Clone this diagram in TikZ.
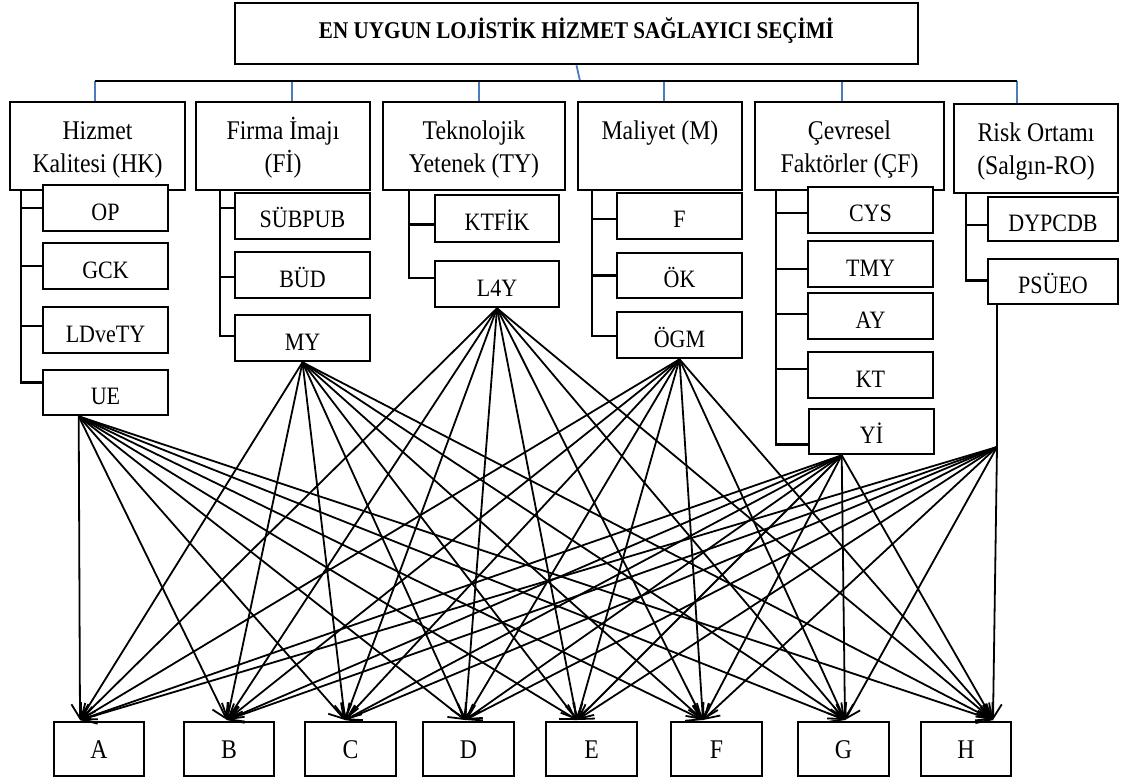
\documentclass[tikz,border=0pt]{standalone}
\usepackage{fontspec}
\setmainfont{Liberation Serif}[FakeStretch=0.88]
\usetikzlibrary{arrows.meta,calc}
\definecolor{tickblue}{RGB}{74,126,187}
\newcommand\fl{\rule{0pt}{25pt}}
\begin{document}
\begin{tikzpicture}[x=1pt,y=-1pt,
  box/.style={draw, line width=2.6pt, fill=white, inner sep=0pt},
  bx/.style 2 args={minimum width=#1pt, minimum height=#2pt},
  tfont/.style={font=\bfseries\fontsize{24}{28}\selectfont, text height=16pt, text depth=6pt},
  lfont/.style={align=center, font=\fontsize{27}{33}\selectfont},
  sfont/.style={font=\fontsize{25}{29}\selectfont, text height=24pt, text depth=0pt},
  afont/.style={font=\fontsize{27}{31}\selectfont, text height=18pt, text depth=0pt},
  conn/.style={line width=2.2pt, line cap=rect},
  busline/.style={line width=2pt},
  tick/.style={line width=1.8pt, draw=tickblue},
  arr/.style={line width=1.8pt, -{Straight Barb[length=14pt,width=17pt]}},
  fanline/.style={line width=1.8pt}
]
\fill[white] (0,0) rectangle (1124,778);
\useasboundingbox (0,0) rectangle (1124,778);

% title
\node[box, bx={683}{61}, tfont] (title) at (576.5,33.5) {EN UYGUN LOJİSTİK HİZMET SAĞLAYICI SEÇİMİ};

% level 1
\node[box, bx={175}{88}, lfont] (hk) at (97.5,146) {\fl Hizmet\\Kalitesi (HK)};
\node[box, bx={174}{88}, lfont] (fi) at (283,146) {\fl Firma İmajı\\(Fİ)};
\node[box, bx={182}{88}, lfont] (ty) at (474,146) {\fl Teknolojik\\Yetenek (TY)};
\node[box, bx={164}{88}, lfont] (m) at (660,146) {\fl Maliyet (M)\\\phantom{(X)}};
\node[box, bx={189}{88}, lfont] (cf) at (849.5,146) {\fl Çevresel\\Faktörler (ÇF)};
\node[box, bx={164}{89}, lfont] (ro) at (1036,148.5) {\fl Risk Ortamı\\(Salgın-RO)};

% level 2
\node[box, bx={125}{46}, sfont] (op) at (105.5,208) {OP};
\node[box, bx={125}{46}, sfont] (gck) at (105.5,266) {GCK};
\node[box, bx={125}{46}, sfont] (ldvety) at (105.5,330) {LDveTY};
\node[box, bx={125}{45}, sfont] (ue) at (105.5,392.5) {UE};

\node[box, bx={135}{46}, sfont] (subpub) at (302.5,216) {SÜBPUB};
\node[box, bx={135}{46}, sfont] (bud) at (302.5,275) {BÜD};
\node[box, bx={135}{46}, sfont] (my) at (302.5,338) {MY};

\node[box, bx={124}{47}, sfont] (ktfik) at (497,218.5) {KTFİK};
\node[box, bx={124}{46}, sfont] (lfy) at (497,284) {L4Y};

\node[box, bx={125}{46}, sfont] (f) at (679.5,216) {F};
\node[box, bx={125}{45}, sfont] (ok) at (679.5,275.5) {ÖK};
\node[box, bx={125}{46}, sfont] (ogm) at (679.5,335) {ÖGM};

\node[box, bx={125}{46}, sfont] (cys) at (870.5,210) {CYS};
\node[box, bx={125}{46}, sfont] (tmy) at (870.5,264) {TMY};
\node[box, bx={125}{46}, sfont] (ay) at (870.5,316) {AY};
\node[box, bx={125}{46}, sfont] (kt) at (870.5,375) {KT};
\node[box, bx={125}{45}, sfont] (yi) at (871.5,431.5) {Yİ};

\node[box, bx={130}{44}, sfont] (dypcdb) at (1053,219) {DYPCDB};
\node[box, bx={130}{45}, sfont] (psueo) at (1053,281.5) {PSÜEO};

% alternatives
\node[box, bx={90}{54}, afont] (altA) at (99,749) {A};
\node[box, bx={90}{54}, afont] (altB) at (229,749) {B};
\node[box, bx={91}{54}, afont] (altC) at (350.5,749) {C};
\node[box, bx={91}{54}, afont] (altD) at (468.5,749) {D};
\node[box, bx={91}{54}, afont] (altE) at (591.5,749) {E};
\node[box, bx={91}{54}, afont] (altF) at (716.5,749) {F};
\node[box, bx={91}{54}, afont] (altG) at (843.5,749) {G};
\node[box, bx={90}{54}, afont] (altH) at (966,749) {H};

% bus
\coordinate (bus1) at (95,81);
\coordinate (bus2) at (292,81);
\coordinate (bus3) at (479,81);
\coordinate (busT) at (580,81);
\coordinate (bus4) at (664,81);
\coordinate (bus5) at (842,81);
\coordinate (bus6) at (1017,81);
\draw[tick] (title.south) -- (busT);
\draw[tick] (bus1) -- (bus1 |- hk.north);
\draw[tick] (bus2) -- (bus2 |- fi.north);
\draw[tick] (bus3) -- (bus3 |- ty.north);
\draw[tick] (bus4) -- (bus4 |- m.north);
\draw[tick] (bus5) -- (bus5 |- cf.north);
\draw[tick] (bus6) -- (bus6 |- ro.north);
\draw[busline] (bus1) -- (bus6);

% spines
\coordinate (sHK) at (21,0);
\coordinate (sFI) at (220,0);
\coordinate (sTY) at (409,0);
\coordinate (sM) at (592,0);
\coordinate (sCF) at (776,0);
\coordinate (sRO) at (966,0);

\newcommand\brn[3]{\path ($(#2.west)+(0,#3)$) coordinate (#2-b); \draw[conn] (#2-b -| #1) -- (#2-b);}

\brn{sHK}{op}{0} \brn{sHK}{gck}{0} \brn{sHK}{ldvety}{-4} \brn{sHK}{ue}{-10}
\draw[conn] (hk.south -| sHK) -- (ue-b -| sHK);

\brn{sFI}{subpub}{-8} \brn{sFI}{bud}{2} \brn{sFI}{my}{-2}
\draw[conn] (fi.south -| sFI) -- (my-b -| sFI);

\brn{sTY}{ktfik}{6} \brn{sTY}{lfy}{-6}
\draw[conn] (ty.south -| sTY) -- (lfy-b -| sTY);

\brn{sM}{f}{3} \brn{sM}{ok}{0} \brn{sM}{ogm}{1}
\draw[conn] (m.south -| sM) -- (ogm-b -| sM);

\brn{sCF}{cys}{3} \brn{sCF}{tmy}{5} \brn{sCF}{ay}{-2} \brn{sCF}{kt}{-6} \brn{sCF}{yi}{13}
\draw[conn] (cf.south -| sCF) -- (yi-b -| sCF);

\brn{sRO}{dypcdb}{6} \brn{sRO}{psueo}{-1}
\draw[conn] (ro.south -| sRO) -- (psueo-b -| sRO);

% fan sources
\path (ue.south west) ++(37,0) coordinate (fUE);
\coordinate (fMY) at (my.south);
\coordinate (fLY) at (lfy.south);
\coordinate (fOGM) at (ogm.south);
\path (yi.south west) ++(34,0) coordinate (fYI);
\coordinate (fPS) at (997,447);
\draw[fanline] (psueo.south -| fPS) -- (fPS);

% tips
\coordinate (tA) at (80,720);
\coordinate (tB) at (227,720);
\coordinate (tC) at (345,720);
\coordinate (tD) at (465,720);
\coordinate (tE) at (577,720);
\coordinate (tF) at (703,720);
\coordinate (tG) at (845,720);
\coordinate (tH) at (993,720);

\foreach \s in {fUE,fMY,fLY,fOGM,fYI,fPS}{
  \foreach \t in {tA,tB,tC,tD,tE,tF,tG,tH}{
    \draw[arr] (\s) -- (\t);
  }
}
\end{tikzpicture}
\end{document}
